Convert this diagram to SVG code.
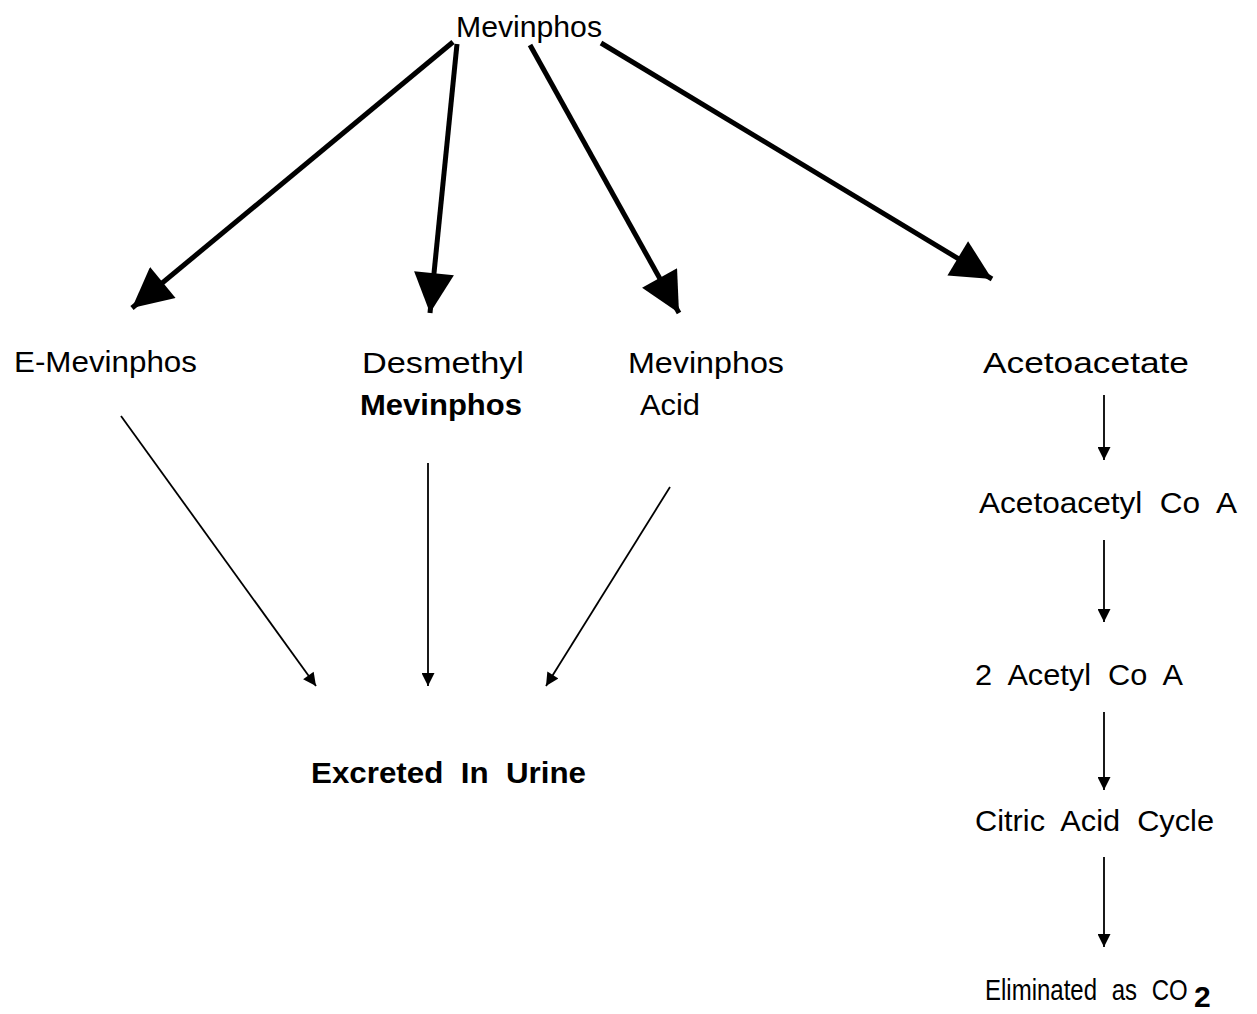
<svg xmlns="http://www.w3.org/2000/svg" width="1257" height="1014" viewBox="0 0 1257 1014">
<defs>
<style>
text{font-family:"Liberation Sans",Arial,sans-serif;font-size:29px;fill:#000}
.b{font-weight:bold}
.thick{stroke:#000;stroke-width:5;fill:none}
.thin{stroke:#000;stroke-width:1.8;fill:none}
</style>
<marker id="big" viewBox="0 0 10 10" refX="10" refY="5" markerUnits="userSpaceOnUse" markerWidth="46" markerHeight="40" orient="auto">
<path d="M0,0 L10,5 L0,10 z" fill="#000"/>
</marker>
<marker id="small" viewBox="0 0 10 10" refX="10" refY="5" markerUnits="userSpaceOnUse" markerWidth="22" markerHeight="13" orient="auto">
<path d="M0,0 L10,5 L0,10 z" fill="#000"/>
</marker>
</defs>
<rect width="1257" height="1014" fill="#fff"/>
<g id="connectors">
<line class="thick" x1="453" y1="42" x2="132" y2="308" marker-end="url(#big)"/>
<line class="thick" x1="457" y1="44" x2="430" y2="313" marker-end="url(#big)"/>
<line class="thick" x1="530" y1="45" x2="679" y2="313" marker-end="url(#big)"/>
<line class="thick" x1="601" y1="43" x2="992" y2="279" marker-end="url(#big)"/>
<line class="thin" x1="121" y1="416" x2="316" y2="686" marker-end="url(#small)"/>
<line class="thin" x1="428" y1="463" x2="428" y2="686" marker-end="url(#small)"/>
<line class="thin" x1="670" y1="487" x2="546" y2="686" marker-end="url(#small)"/>
<line class="thin" x1="1104" y1="395" x2="1104" y2="460" marker-end="url(#small)"/>
<line class="thin" x1="1104" y1="540" x2="1104" y2="622" marker-end="url(#small)"/>
<line class="thin" x1="1104" y1="712" x2="1104" y2="790" marker-end="url(#small)"/>
<line class="thin" x1="1104" y1="857" x2="1104" y2="947" marker-end="url(#small)"/>
</g>
<g id="mevinphos"><text x="456" y="37" textLength="146" lengthAdjust="spacingAndGlyphs" style="font-size:30px">Mevinphos</text></g>
<g id="e-mevinphos"><text x="14" y="372" textLength="183" lengthAdjust="spacingAndGlyphs">E-Mevinphos</text></g>
<g id="desmethyl-mevinphos">
<text x="362" y="373" textLength="162" lengthAdjust="spacingAndGlyphs">Desmethyl</text>
<text class="b" x="360" y="415" textLength="162" lengthAdjust="spacingAndGlyphs">Mevinphos</text>
</g>
<g id="mevinphos-acid">
<text x="628" y="373" textLength="156" lengthAdjust="spacingAndGlyphs">Mevinphos</text>
<text x="640" y="415" textLength="60" lengthAdjust="spacingAndGlyphs">Acid</text>
</g>
<g id="acetoacetate"><text x="983" y="373" textLength="206" lengthAdjust="spacingAndGlyphs">Acetoacetate</text></g>
<g id="acetoacetyl-coa"><text x="979" y="513" textLength="258" lengthAdjust="spacingAndGlyphs" style="word-spacing:8px">Acetoacetyl Co A</text></g>
<g id="acetyl-coa"><text x="975" y="685" textLength="208" lengthAdjust="spacingAndGlyphs" style="word-spacing:8px">2 Acetyl Co A</text></g>
<g id="citric-acid-cycle"><text x="975" y="831" textLength="239" lengthAdjust="spacingAndGlyphs" style="word-spacing:8px">Citric Acid Cycle</text></g>
<g id="eliminated-co2">
<text transform="translate(985,1000) scale(1,1.2)" x="0" y="0" style="font-size:24px;word-spacing:8px">Eliminated as CO</text>
<text class="b" x="1194" y="1007" style="font-size:30px">2</text>
</g>
<g id="excreted-in-urine"><text class="b" x="311" y="783" textLength="275" lengthAdjust="spacingAndGlyphs" style="word-spacing:8px">Excreted In Urine</text></g>
</svg>
